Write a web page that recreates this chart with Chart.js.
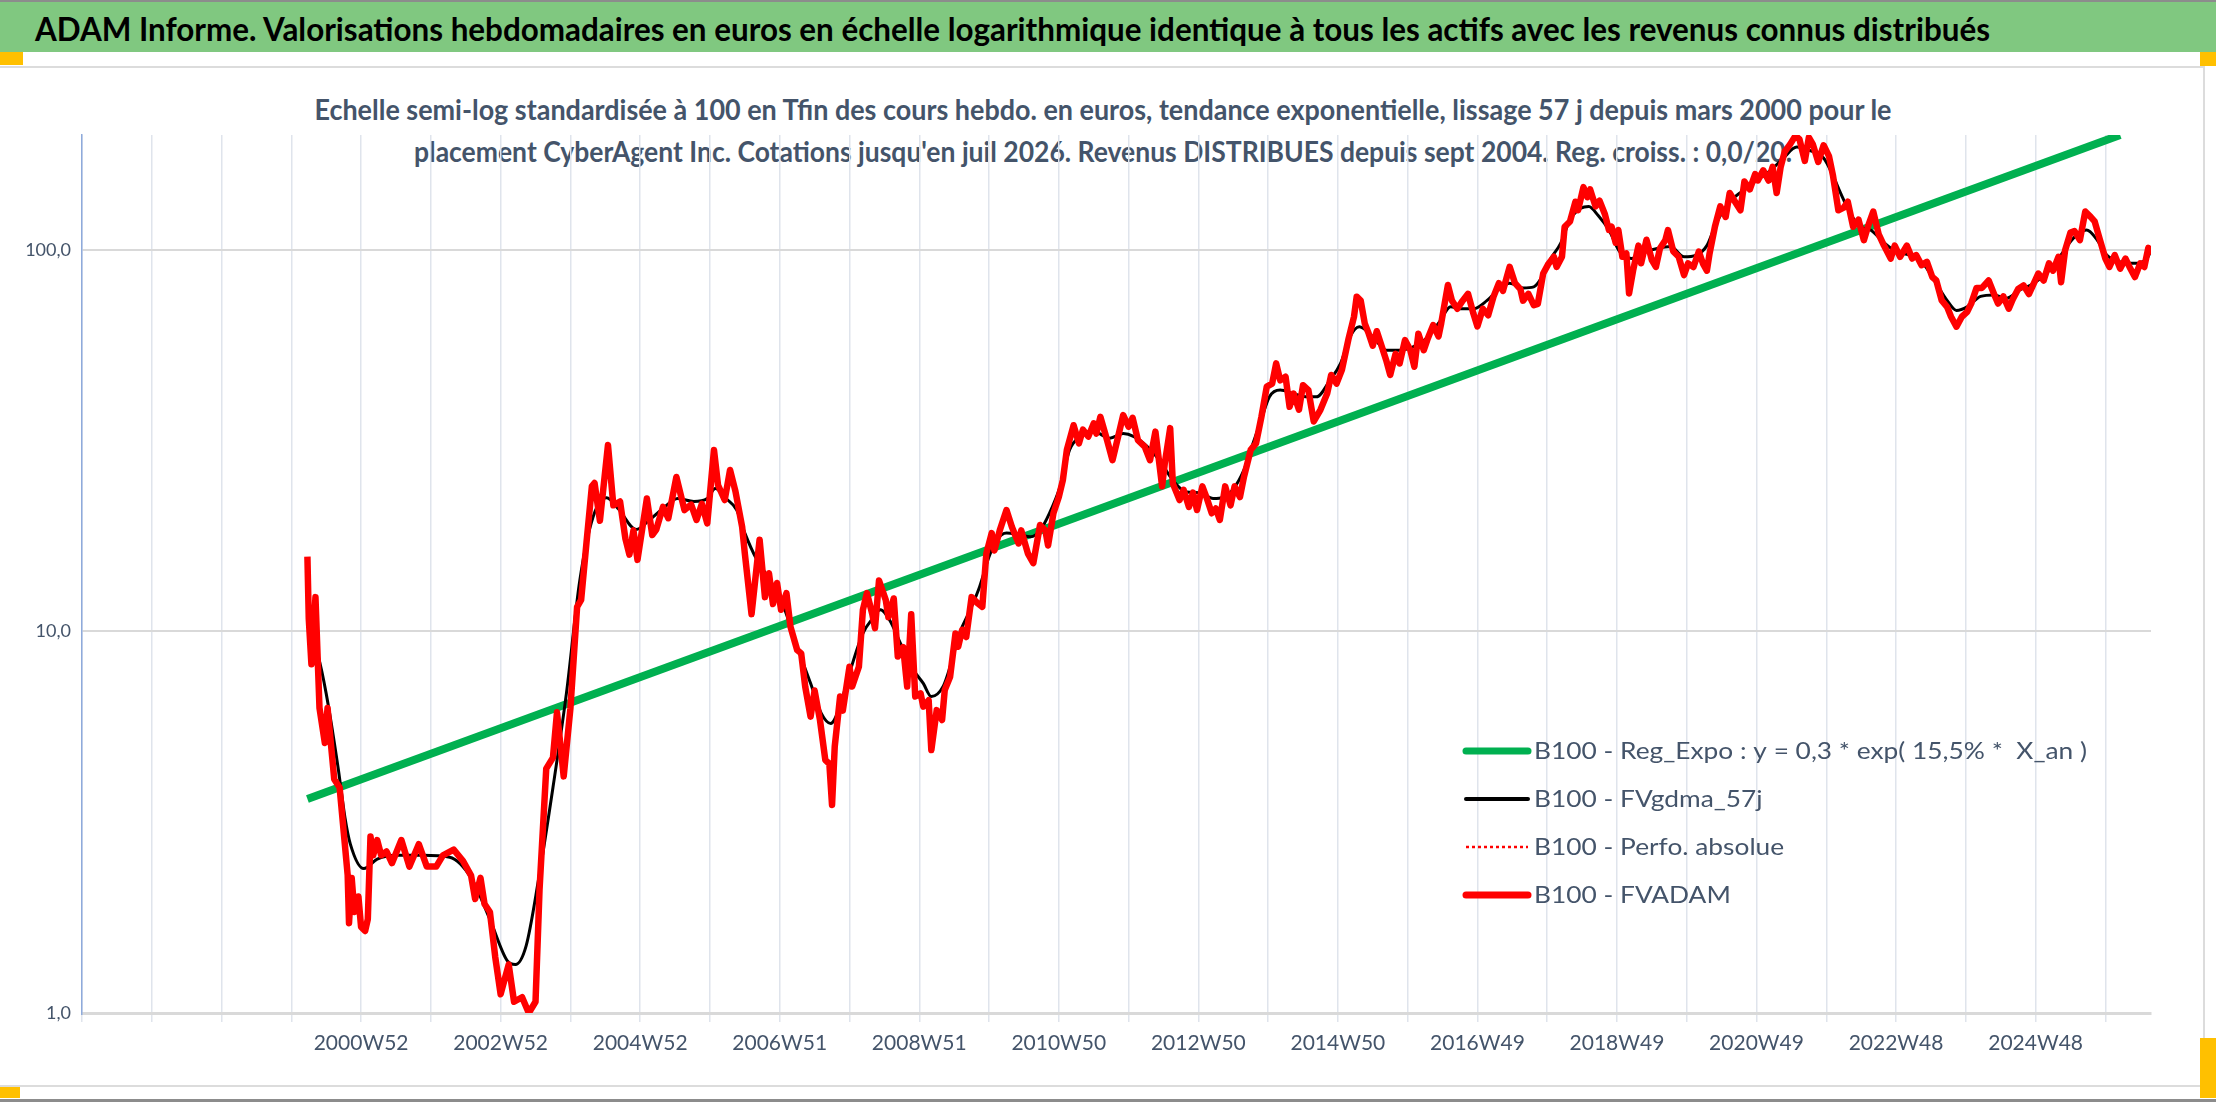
<!DOCTYPE html>
<html>
<head>
<meta charset="utf-8">
<script src="https://cdn.jsdelivr.net/npm/chart.js@4.4.1/dist/chart.umd.min.js"></script>
<style>
  html, body { margin: 0; padding: 0; background: #fff; }
  #page { position: relative; width: 2216px; height: 1102px; overflow: hidden; font-family: Lato, sans-serif; }
  .abs { position: absolute; }
  #topline { left: 0; top: 0; width: 2216px; height: 2px; background: #8c8c8c; }
  #header { left: 0; top: 2px; width: 2216px; height: 50px; background: #80c880; z-index: 5; }
  #headerText { left: 35px; top: 6px; font-weight: bold; font-size: 33px; line-height: 40px; color: #000; white-space: nowrap; transform-origin: 0 50%; }
  #frame { left: 0; top: 66px; width: 2203px; height: 1017px; border: 2px solid #dcdcdc; border-left: none; }
  .sub { left: 1103px; font-weight: bold; font-size: 28px; line-height: 34px; color: #44546a; white-space: nowrap; transform-origin: 50% 50%; }
  #sub1 { top: 92px; }
  #sub2 { top: 134px; }
  .handle { background: #ffc000; }
  #bottomline { left: 0; top: 1099px; width: 2216px; height: 3px; background: #8c8c8c; }
  #chartBox { left: 0; top: 0; width: 2216px; height: 1102px; z-index: 3; }
</style>
</head>
<body>
<div id="page">
  <div id="topline" class="abs"></div>
  <div id="header" class="abs"><div id="headerText" class="abs">ADAM Informe. Valorisations hebdomadaires en euros en échelle logarithmique identique à tous les actifs avec les revenus connus distribués</div></div>
  <div id="frame" class="abs"></div>
  <div class="abs handle" style="left:0;top:52px;width:23px;height:13px"></div>
  <div class="abs handle" style="left:2200px;top:52px;width:16px;height:14px"></div>
  <div class="abs handle" style="left:2200px;top:1038px;width:16px;height:60px"></div>
  <div class="abs handle" style="left:0;top:1087px;width:20px;height:11px"></div>
  <div id="sub1" class="abs sub">Echelle semi-log standardisée à 100 en Tfin des cours hebdo. en euros, tendance exponentielle, lissage 57 j depuis mars 2000 pour le</div>
  <div id="sub2" class="abs sub">placement CyberAgent Inc. Cotations jusqu'en juil 2026. Revenus DISTRIBUES depuis sept 2004. Reg. croiss. : 0,0/20.</div>
  <div id="bottomline" class="abs"></div>
  <div id="chartBox" class="abs"><canvas id="chart"></canvas></div>
</div>
<script>
// week index 0 = first category of the axis (about 1996W52), 52 weeks per gridline
const xTickWeeks = [208, 312, 416, 520, 624, 728, 832, 936, 1040, 1144, 1248, 1352, 1456];
const xTickLabels = ['2000W52', '2002W52', '2004W52', '2006W51', '2008W51', '2010W50', '2012W50',
  '2014W50', '2016W49', '2018W49', '2020W49', '2022W48', '2024W48'];
const yTickValues = [1, 10, 100];

// B100 - FVADAM (red)
const fvadamWeeks = [168, 169, 171, 174, 177, 181, 183, 188, 192, 198, 199, 201, 203, 206, 208, 211, 213, 215, 217, 220,
  223, 227, 231, 238, 244, 251, 257, 264, 269, 277, 284, 290, 293, 297, 300, 304, 308, 312, 318, 322,
  328, 333, 338, 341, 346, 351, 354, 359, 364, 369, 372, 376, 380, 382, 386, 392, 396, 401, 405, 408,
  411, 414, 421, 425, 428, 433, 437, 443, 449, 454, 458, 462, 466, 471, 474, 479, 483, 487, 492, 494,
  499, 505, 509, 512, 515, 518, 521, 525, 528, 533, 536, 539, 543, 546, 550, 554, 557, 559, 561, 565,
  567, 572, 574, 579, 582, 585, 589, 591, 594, 599, 601, 605, 608, 612, 615, 618, 621, 625, 627, 631,
  633, 637, 641, 643, 647, 651, 653, 656, 659, 663, 667, 671, 674, 678, 680, 684, 689, 693, 698, 700,
  705, 709, 714, 718, 720, 724, 728, 731, 734, 739, 743, 746, 750, 754, 756, 759, 764, 768, 771, 776,
  780, 783, 787, 792, 796, 800, 805, 807, 811, 813, 818, 821, 825, 828, 831, 835, 838, 842, 845, 848,
  852, 856, 859, 863, 866, 871, 875, 879, 883, 887, 890, 893, 897, 900, 903, 907, 910, 914, 918, 923,
  928, 931, 935, 939, 944, 948, 950, 953, 956, 959, 962, 965, 969, 972, 975, 979, 982, 986, 990, 993,
  996, 1000, 1003, 1007, 1011, 1013, 1018, 1021, 1025, 1029, 1033, 1037, 1040, 1044, 1048, 1052, 1056, 1059, 1064, 1068,
  1072, 1074, 1078, 1082, 1085, 1089, 1093, 1097, 1099, 1103, 1105, 1109, 1113, 1115, 1119, 1122, 1124, 1128, 1131, 1135,
  1138, 1140, 1143, 1145, 1148, 1151, 1153, 1156, 1160, 1162, 1166, 1170, 1173, 1176, 1180, 1182, 1186, 1190, 1194, 1197,
  1201, 1205, 1208, 1211, 1213, 1217, 1221, 1225, 1228, 1232, 1236, 1239, 1243, 1247, 1249, 1253, 1257, 1260, 1263, 1266,
  1269, 1273, 1277, 1280, 1284, 1287, 1290, 1294, 1298, 1302, 1305, 1309, 1313, 1316, 1320, 1324, 1328, 1331, 1335, 1339,
  1343, 1348, 1351, 1355, 1360, 1364, 1367, 1371, 1375, 1379, 1382, 1386, 1390, 1393, 1397, 1401, 1405, 1408, 1412, 1416,
  1421, 1425, 1428, 1432, 1436, 1439, 1443, 1447, 1451, 1454, 1458, 1462, 1466, 1469, 1473, 1475, 1478, 1482, 1485, 1489,
  1493, 1497, 1500, 1504, 1508, 1511, 1515, 1519, 1523, 1526, 1530, 1534, 1537, 1540, 1541];
const fvadamValues = [15.7, 10.8, 8.2, 12.3, 6.3, 5.1, 6.3, 4.1, 3.9, 2.3, 1.72, 2.26, 1.84, 2.02, 1.68, 1.64, 1.76, 2.9, 2.59, 2.84,
  2.59, 2.65, 2.47, 2.84, 2.42, 2.77, 2.42, 2.42, 2.59, 2.68, 2.5, 2.29, 1.99, 2.26, 1.93, 1.84, 1.4, 1.12, 1.34, 1.07,
  1.1, 1.0, 1.07, 2.11, 4.37, 4.67, 6.14, 4.17, 6.28, 11.6, 12.1, 17.1, 24.0, 24.5, 19.5, 30.8, 21.4, 21.9, 17.5, 15.9,
  18.4, 15.4, 22.3, 17.9, 18.5, 21.2, 19.8, 25.4, 20.8, 21.5, 19.6, 21.6, 19.2, 29.9, 24.2, 22.1, 26.5, 23.3, 18.8, 16.0,
  11.1, 17.4, 12.3, 14.2, 11.8, 13.4, 11.4, 12.6, 10.3, 8.94, 8.76, 7.17, 5.98, 7.0, 5.86, 4.6, 4.5, 3.51, 4.99, 6.75,
  6.2, 8.08, 7.17, 8.08, 11.4, 12.6, 11.1, 10.2, 13.6, 12.1, 10.9, 12.2, 8.59, 9.1, 7.17, 11.1, 6.75, 6.88, 6.35, 6.6,
  4.89, 6.22, 5.86, 7.02, 7.61, 9.88, 9.12, 10.1, 9.67, 12.3, 11.9, 11.6, 16.0, 18.1, 16.3, 18.4, 20.8, 18.8, 17.0, 18.4,
  16.0, 15.1, 19.0, 18.4, 16.8, 20.4, 22.5, 24.9, 29.9, 34.7, 31.1, 33.8, 32.4, 35.1, 33.0, 36.5, 31.7, 28.1, 31.1, 36.9,
  34.4, 36.3, 31.7, 30.5, 28.1, 33.4, 24.0, 27.6, 34.1, 24.4, 22.1, 23.5, 21.2, 23.1, 20.8, 24.0, 22.5, 20.4, 21.0, 19.6,
  24.0, 21.4, 24.0, 22.5, 25.4, 29.9, 31.1, 36.5, 43.8, 44.6, 50.4, 45.5, 46.5, 38.8, 42.0, 38.1, 44.2, 42.9, 35.5, 38.1,
  42.0, 47.0, 44.6, 48.5, 58.6, 66.8, 75.4, 73.6, 64.2, 60.3, 56.1, 61.2, 55.4, 51.4, 47.0, 53.4, 50.4, 58.0, 54.6, 49.4,
  60.3, 54.6, 58.6, 63.5, 59.3, 64.2, 80.9, 73.6, 70.1, 73.6, 76.7, 68.1, 63.0, 70.1, 67.4, 75.4, 81.8, 78.1, 90.3, 81.8,
  78.9, 73.6, 76.7, 71.6, 72.2, 86.7, 92.0, 95.9, 90.2, 96.0, 115, 118.7, 133.7, 127, 146, 137.4, 144, 130, 134.6, 124,
  112.7, 115, 104.4, 112.7, 95.9, 97.8, 76.9, 88.2, 102.6, 92.2, 106.3, 94, 90.2, 100.8, 106, 112.7, 99, 95.9, 85.9, 92.2,
  90.2, 99, 92.2, 88.2, 97.8, 115, 130, 122, 141, 133.7, 127, 151, 144, 158, 152, 161.6, 152, 165, 141, 165,
  180.8, 189, 199, 195, 171, 197, 189, 170, 188, 176, 156.5, 127, 129, 133.7, 115, 120, 106, 115, 126, 110,
  102.6, 94.9, 102.6, 95.9, 102.6, 94.9, 96.9, 91.2, 93, 84.9, 83.1, 73.7, 70.9, 66.8, 62.9, 66.8, 68.8, 72.3, 79.5, 79.5,
  83.1, 76.6, 72.3, 75.5, 70.1, 74.2, 79, 80.7, 76.6, 80.7, 86.7, 83.1, 92.2, 88.2, 95.9, 82.3, 99.8, 111, 112, 106,
  126, 122, 118.7, 106, 94.9, 90.2, 96.9, 89.3, 94.9, 90.2, 84.9, 92.2, 90.2, 101.2, 96.9];

// B100 - FVgdma_57j (black, smoothed)
const gdmaWeeks = [172, 176, 182, 191, 196, 200, 210, 220, 235, 254, 274, 290, 304, 317, 323, 331, 340, 351, 361, 371,
  381, 391, 400, 413, 423, 433, 444, 456, 466, 472, 480, 488, 494, 503, 513, 523, 533, 543, 551, 558,
  564, 572, 582, 590, 595, 602, 610, 618, 627, 633, 642, 647, 654, 662, 669, 676, 682, 689, 699, 707,
  714, 721, 729, 736, 744, 754, 766, 776, 784, 794, 803, 813, 823, 833, 843, 851, 858, 866, 871, 878,
  885, 893, 903, 913, 920, 930, 938, 945, 952, 962, 972, 982, 992, 1002, 1012, 1020, 1027, 1037, 1047, 1057,
  1064, 1074, 1082, 1089, 1094, 1102, 1109, 1117, 1123, 1130, 1138, 1146, 1155, 1164, 1174, 1184, 1194, 1203, 1211, 1218,
  1228, 1238, 1248, 1258, 1268, 1278, 1288, 1298, 1305, 1311, 1318, 1325, 1333, 1343, 1352, 1362, 1372, 1382, 1390, 1397,
  1405, 1415, 1425, 1434, 1444, 1454, 1464, 1474, 1484, 1494, 1502, 1509, 1519, 1529, 1539, 1541];
const gdmaValues = [9.45, 8.63, 6.87, 4.36, 3.25, 2.77, 2.39, 2.53, 2.59, 2.59, 2.56, 2.26, 1.76, 1.37, 1.34, 1.5, 2.21, 3.9, 6.87, 13.6,
  20.0, 22.4, 20.9, 18.5, 19.6, 21.0, 22.3, 21.9, 22.3, 23.7, 22.3, 20.8, 18.1, 15.4, 13.6, 11.6, 9.12, 7.31, 6.1, 5.74,
  6.23, 7.77, 9.88, 10.9, 11.4, 10.7, 9.3, 8.08, 7.31, 6.75, 7.2, 8.08, 9.88, 11.4, 13.1, 15.7, 17.4, 18.1, 17.9, 17.7,
  18.4, 20.4, 24.0, 29.9, 32.4, 33.4, 32.1, 33.0, 32.4, 30.5, 28.1, 24.9, 23.2, 23.1, 22.3, 22.5, 23.6, 26.5, 29.9, 35.1,
  41.2, 42.9, 42.0, 41.2, 41.2, 45.5, 50.4, 59.2, 62.9, 59.2, 54.6, 54.6, 55.7, 58.6, 64.9, 70.9, 70.1, 70.1, 73.6, 79.5,
  81.8, 79.5, 80.0, 86.0, 94, 104, 120, 128.5, 130, 123, 112.7, 99, 94.9, 98.4, 100.8, 102, 95.9, 96.9, 102.6, 117.5,
  133.7, 143, 152, 161, 174, 186, 182, 174, 156.5, 140, 124.5, 115, 112.7, 104.4, 99, 96.9, 92.2, 81.5, 73.7, 69.4,
  70.9, 75.5, 76.2, 74.6, 78.4, 81.5, 86.7, 95.9, 107.2, 112.7, 106, 96.9, 93, 92.2, 94.9, 97.8];

// B100 - Reg_Expo (green), read at its two ends
const regWeeks = [168, 1519];
const regValues = [3.64, 200];

// B100 - Perfo. absolue: only present in the legend
const perfoWeeks = [];
const perfoValues = [];

const toPoints = (xs, ys) => xs.map((x, i) => ({ x: x, y: ys[i] }));

const gridWeeks = [];
for (let w = 0; w <= 1542; w += 52) gridWeeks.push(w);

const slate = '#44546a';

// legend drawn inside the plot, labels stretched like the original
const insideLegend = {
  id: 'insideLegend',
  afterDatasetsDraw(chart, args, opts) {
    const ctx = chart.ctx;
    ctx.save();
    ctx.font = opts.font;
    ctx.textBaseline = 'middle';
    const sx = opts.firstWidth / ctx.measureText(chart.data.datasets[0].label).width;
    chart.data.datasets.forEach((ds, i) => {
      const y = opts.y + i * opts.rowGap;
      ctx.beginPath();
      ctx.strokeStyle = ds.borderColor;
      ctx.lineWidth = ds.legendWidth;
      ctx.setLineDash(ds.legendDash || []);
      ctx.lineCap = ds.legendDash ? 'butt' : 'round';
      ctx.moveTo(opts.x, y);
      ctx.lineTo(opts.x + opts.swatch, y);
      ctx.stroke();
      ctx.setLineDash([]);
      ctx.save();
      ctx.translate(opts.x + opts.swatch + opts.gap, y + 1);
      ctx.scale(sx, 1);
      ctx.fillStyle = opts.color;
      ctx.fillText(ds.label, 0, 0);
      ctx.restore();
    });
    ctx.restore();
  }
};

new Chart(document.getElementById('chart'), {
  type: 'line',
  data: {
    datasets: [
      {
        label: 'B100 - Reg_Expo : y = 0,3 * exp( 15,5% *  X_an )',
        data: toPoints(regWeeks, regValues),
        borderColor: '#00b050', borderWidth: 8, legendWidth: 7, order: 3
      },
      {
        label: 'B100 - FVgdma_57j',
        data: toPoints(gdmaWeeks, gdmaValues),
        borderColor: '#000000', borderWidth: 3, legendWidth: 4, order: 2,
        cubicInterpolationMode: 'monotone'
      },
      {
        label: 'B100 - Perfo. absolue',
        data: toPoints(perfoWeeks, perfoValues),
        borderColor: '#ff0000', borderWidth: 2, legendWidth: 2.5, legendDash: [3, 3], borderDash: [3, 3], order: 1
      },
      {
        label: 'B100 - FVADAM',
        data: toPoints(fvadamWeeks, fvadamValues),
        borderColor: '#ff0000', borderWidth: 6.5, legendWidth: 7, order: 0,
        borderJoinStyle: 'round'
      }
    ]
  },
  options: {
    responsive: true,
    maintainAspectRatio: false,
    animation: false,
    events: [],
    elements: { point: { radius: 0 }, line: { tension: 0, fill: false } },
    layout: { padding: { left: 0, right: 65, top: 135, bottom: 29 } },
    plugins: {
      legend: { display: false },
      tooltip: { enabled: false },
      title: { display: false },
      insideLegend: { x: 1466, y: 751, rowGap: 48, swatch: 62, gap: 6, font: '23px Lato', color: slate, firstWidth: 553 }
    },
    scales: {
      x: {
        type: 'linear',
        min: 0,
        max: 1542,
        afterBuildTicks: (scale) => { scale.ticks = gridWeeks.map(v => ({ value: v })); },
        afterFit: (scale) => { scale.height = 60; },
        grid: { color: '#dfe4ec', lineWidth: 1.5, drawTicks: true, tickLength: 9, tickColor: '#dfe4ec' },
        border: { display: true, color: '#d9d9d9', width: 3 },
        ticks: {
          autoSkip: false, maxRotation: 0, minRotation: 0, padding: 9,
          color: slate, font: { family: 'Lato', size: 21 },
          callback: (value) => {
            const k = xTickWeeks.indexOf(value);
            return k >= 0 ? xTickLabels[k] : '';
          }
        }
      },
      y: {
        type: 'logarithmic',
        min: 1,
        max: 200,
        afterBuildTicks: (scale) => { scale.ticks = yTickValues.map(v => ({ value: v })); },
        afterFit: (scale) => { scale.width = 82; },
        grid: {
          color: '#d9d9d9',
          lineWidth: (c) => (c.tick && c.tick.value === 1 ? 3 : 2),
          drawTicks: false
        },
        border: { display: true, color: '#8eaadb', width: 1.5 },
        ticks: {
          padding: 11, color: slate, font: { family: 'Lato', size: 18 },
          callback: (value) => value.toFixed(1).replace('.', ',')
        }
      }
    }
  },
  plugins: [insideLegend]
});

// stretch the text blocks to the widths seen on the original report
function fitWidth(id, target, pre) {
  const el = document.getElementById(id);
  const w = el.getBoundingClientRect().width;
  el.style.transform = pre + ' scaleX(' + (target / w) + ')';
}
fitWidth('headerText', 1955, '');
fitWidth('sub1', 1577, 'translateX(-50%)');
fitWidth('sub2', 1378, 'translateX(-50%)');
</script>
</body>
</html>
